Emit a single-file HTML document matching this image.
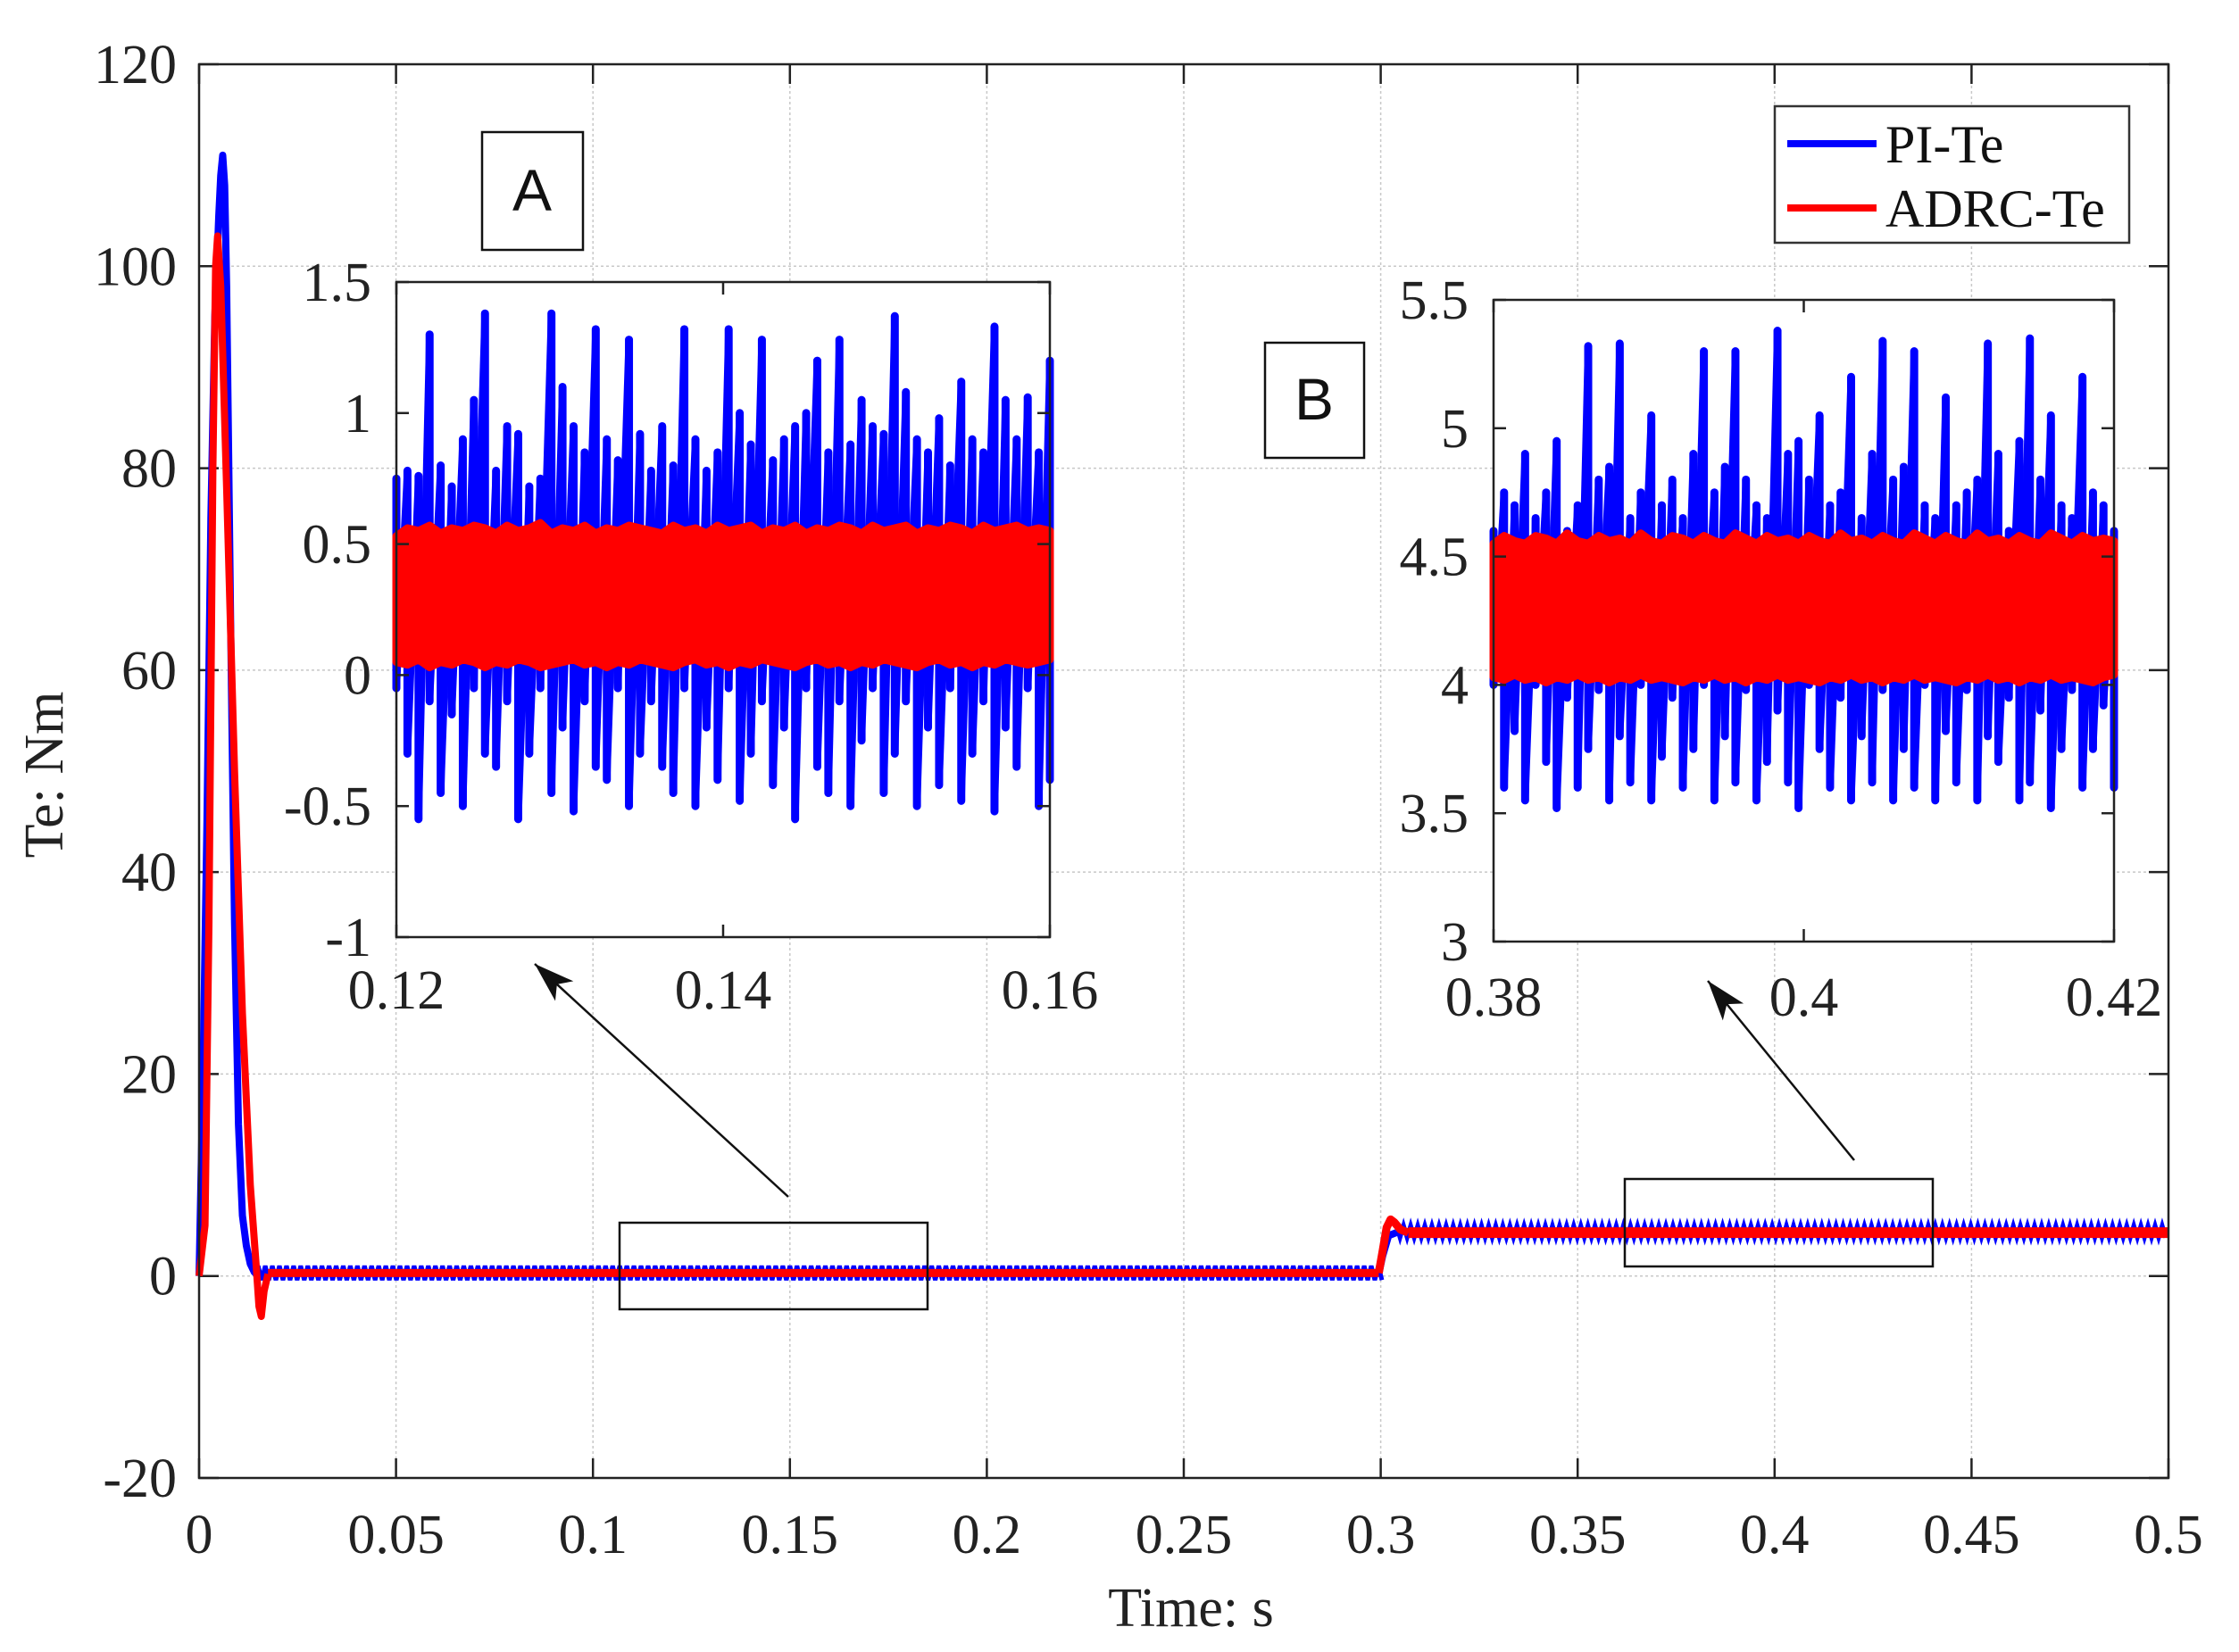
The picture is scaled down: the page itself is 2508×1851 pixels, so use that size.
<!DOCTYPE html>
<html><head><meta charset="utf-8">
<style>
html,body{margin:0;padding:0;background:#fff;}
svg{display:block;font-family:"Liberation Serif",serif;}
</style></head>
<body>
<svg id="chart" width="2508" height="1851" viewBox="0 0 2508 1851" xmlns="http://www.w3.org/2000/svg">
<rect x="0" y="0" width="2508" height="1851" fill="#fff"/>
<g id="main"></g>
<g id="insetA"></g>
<g id="insetB"></g>
<g id="annot"></g>
</svg>
<script>
// ---------- data ----------
const mainXTicks = [0,0.05,0.1,0.15,0.2,0.25,0.3,0.35,0.4,0.45,0.5];
const mainXTickLabels = ["0","0.05","0.1","0.15","0.2","0.25","0.3","0.35","0.4","0.45","0.5"];
const mainYTicks = [-20,0,20,40,60,80,100,120];
const mainYTickLabels = ["-20","0","20","40","60","80","100","120"];
const piT = [0,0.001,0.002,0.003,0.004,0.005,0.0055,0.006,0.0065,0.007,0.008,0.009,0.010,0.011,0.012,0.013,0.014,0.015];
const piV = [0,20,45,75,95,105,109,111,108,98,65,35,15,6,3,1.2,0.4,0];
const adrcT = [0,0.0015,0.0025,0.0035,0.0042,0.0047,0.0055,0.007,0.009,0.011,0.013,0.0145,0.0152,0.0158,0.0165,0.0175];
const adrcV = [0,5,35,80,100,103,98,78,50,26,9,1,-3,-4,-1.5,0.2];
const bandT = [0.015,0.3,0.3,0.5];
const piBandLo = [-0.4,-0.4,3.8,3.8];
const piBandHi = [1.0,1.0,5.0,5.0];
const adrcBandLo = [0.05,0.05,4.0,4.0];
const adrcBandHi = [0.55,0.55,4.6,4.6];
const adrcStepT = [0.2995,0.3005,0.3015,0.3025,0.3035,0.305,0.307];
const adrcStepV = [0.3,2.5,4.8,5.6,5.3,4.6,4.3];
const piStepT = [0.2995,0.3005,0.302,0.304];
const piStepV = [0.2,2.0,4.0,4.3];

const aXTicks = [0.12,0.14,0.16];
const aXLabels = ["0.12","0.14","0.16"];
const aYTicks = [-1,-0.5,0,0.5,1,1.5];
const aYLabels = ["-1","-0.5","0","0.5","1","1.5"];
const aPIhi = [0.75,0.78,0.76,1.3,0.8,0.72,0.9,1.05,1.38,0.78,0.95,0.92,0.72,0.75,1.38,1.1,0.95,0.85,1.32,0.9,0.82,1.28,0.92,0.78,0.95,0.8,1.32,0.9,0.78,0.85,1.32,1.0,0.88,1.28,0.82,0.9,0.95,1.0,1.2,0.85,1.28,0.88,1.05,0.95,0.92,1.37,1.08,0.9,0.85,0.98,0.8,1.12,0.9,0.85,1.33,1.05,0.9,1.06,0.85,1.2];
const aPIlo = [-0.05,-0.3,-0.55,-0.1,-0.45,-0.15,-0.5,-0.05,-0.3,-0.35,-0.1,-0.55,-0.3,-0.05,-0.45,-0.2,-0.52,-0.1,-0.35,-0.4,-0.05,-0.5,-0.3,-0.1,-0.35,-0.45,-0.05,-0.5,-0.2,-0.4,-0.05,-0.48,-0.3,-0.1,-0.42,-0.2,-0.55,-0.05,-0.35,-0.45,-0.1,-0.5,-0.25,-0.05,-0.45,-0.3,-0.1,-0.5,-0.2,-0.42,-0.05,-0.48,-0.3,-0.1,-0.52,-0.2,-0.35,-0.05,-0.5,-0.4];
const aADRChi = [0.53,0.56,0.55,0.57,0.54,0.56,0.55,0.57,0.56,0.54,0.57,0.55,0.56,0.58,0.54,0.56,0.55,0.57,0.54,0.56,0.55,0.57,0.56,0.55,0.54,0.57,0.55,0.56,0.54,0.57,0.55,0.56,0.57,0.54,0.56,0.55,0.57,0.54,0.56,0.55,0.57,0.56,0.54,0.57,0.55,0.56,0.57,0.54,0.56,0.55,0.57,0.56,0.54,0.57,0.55,0.56,0.57,0.55,0.56,0.55];
const aADRClo = [0.05,0.04,0.06,0.03,0.05,0.04,0.06,0.05,0.03,0.05,0.04,0.06,0.05,0.03,0.04,0.05,0.06,0.04,0.05,0.03,0.05,0.04,0.06,0.05,0.04,0.03,0.05,0.06,0.04,0.05,0.03,0.05,0.04,0.06,0.05,0.04,0.03,0.05,0.06,0.04,0.05,0.03,0.05,0.04,0.06,0.05,0.04,0.03,0.05,0.06,0.04,0.05,0.03,0.05,0.04,0.06,0.05,0.04,0.05,0.06];

const bXTicks = [0.38,0.4,0.42];
const bXLabels = ["0.38","0.4","0.42"];
const bYTicks = [3,3.5,4,4.5,5,5.5];
const bYLabels = ["3","3.5","4","4.5","5","5.5"];
const bPIhi = [4.6,4.75,4.7,4.9,4.65,4.75,4.95,4.6,4.7,5.32,4.8,4.85,5.33,4.65,4.75,5.05,4.7,4.8,4.65,4.9,5.3,4.75,4.85,5.3,4.8,4.7,4.65,5.38,4.9,4.95,4.8,5.05,4.7,4.75,5.2,4.65,4.9,5.34,4.8,4.85,5.3,4.7,4.65,5.12,4.7,4.75,4.8,5.33,4.9,4.6,4.95,5.35,4.8,5.05,4.7,4.65,5.2,4.75,4.7,4.6];
const bPIlo = [4.0,3.6,3.82,3.55,4.0,3.7,3.52,3.95,3.6,3.75,3.98,3.55,3.8,3.62,4.0,3.55,3.72,3.95,3.6,3.75,4.0,3.55,3.8,3.62,3.98,3.55,3.7,3.9,3.62,3.52,4.0,3.75,3.6,3.95,3.55,3.8,3.62,3.98,3.55,3.75,3.6,4.0,3.55,3.82,3.62,3.98,3.55,3.8,3.7,3.95,3.55,3.62,3.9,3.52,3.75,3.98,3.6,3.75,3.92,3.6];
const bADRChi = [4.55,4.58,4.56,4.55,4.58,4.57,4.55,4.59,4.56,4.55,4.58,4.56,4.57,4.55,4.59,4.56,4.55,4.58,4.57,4.55,4.58,4.56,4.55,4.59,4.57,4.55,4.58,4.56,4.57,4.55,4.58,4.56,4.55,4.59,4.56,4.57,4.55,4.58,4.56,4.55,4.59,4.57,4.55,4.58,4.56,4.55,4.59,4.56,4.57,4.55,4.58,4.56,4.55,4.59,4.57,4.55,4.58,4.56,4.57,4.56];
const bADRClo = [4.03,4.02,4.04,4.02,4.03,4.01,4.03,4.02,4.04,4.02,4.03,4.01,4.03,4.02,4.04,4.02,4.03,4.02,4.01,4.03,4.02,4.04,4.02,4.03,4.01,4.03,4.02,4.04,4.02,4.03,4.02,4.01,4.03,4.02,4.04,4.02,4.03,4.01,4.03,4.02,4.04,4.02,4.03,4.02,4.01,4.03,4.02,4.04,4.02,4.03,4.01,4.03,4.02,4.04,4.02,4.03,4.02,4.01,4.03,4.04];

// ---------- helpers ----------
const NS = "http://www.w3.org/2000/svg";
function mk(parent, tag, attrs, text){
  const e = document.createElementNS(NS, tag);
  for (const k in attrs) e.setAttribute(k, attrs[k]);
  if (text !== undefined) e.textContent = text;
  parent.appendChild(e);
  return e;
}
function lin(d0,d1,r0,r1){ return v => r0 + (v-d0)/(d1-d0)*(r1-r0); }

// ---------- main axes ----------
const M = {l:223, r:2429, t:72, b:1656};
const mx = lin(0,0.5,M.l,M.r), my = lin(-20,120,M.b,M.t);
const gMain = document.getElementById('main');
mk(gMain,'rect',{x:M.l,y:M.t,width:M.r-M.l,height:M.b-M.t,fill:'#fff'});
mainXTicks.forEach((v,i)=>{
  const x = mx(v);
  const g = mk(gMain,'line',{x1:x,x2:x,y1:M.t,y2:M.b,stroke:'#c8c8c8','stroke-width':1.5,'stroke-dasharray':'3,3'});
  
  
  mk(gMain,'line',{x1:x,x2:x,y1:M.b,y2:M.b-22,stroke:'#222','stroke-width':2.5});
  mk(gMain,'line',{x1:x,x2:x,y1:M.t,y2:M.t+22,stroke:'#222','stroke-width':2.5});
  const t = mk(gMain,'text',{x:x,y:1740,'font-size':62,'text-anchor':'middle',fill:'#222'},mainXTickLabels[i]);
  
  
});
mainYTicks.forEach((v,i)=>{
  const y = my(v);
  const g = mk(gMain,'line',{x1:M.l,x2:M.r,y1:y,y2:y,stroke:'#c8c8c8','stroke-width':1.5,'stroke-dasharray':'3,3'});
  
  
  mk(gMain,'line',{x1:M.l,x2:M.l+22,y1:y,y2:y,stroke:'#222','stroke-width':2.5});
  mk(gMain,'line',{x1:M.r,x2:M.r-22,y1:y,y2:y,stroke:'#222','stroke-width':2.5});
  const t = mk(gMain,'text',{x:198,y:y+21,'font-size':62,'text-anchor':'end',fill:'#222'},mainYTickLabels[i]);
  
  
});

function bandPath(xs, ys, loV, hiV, step, x0, x1){
  let pts = [];
  for (let t = x0; t <= x1; t += step){
    pts.push(xs(t)+','+ys(hiV));
    pts.push(xs(t+step/2)+','+ys(loV));
  }
  return pts.join(' ');
}
function linePts(xs, ys, T, V){ return T.map((t,i)=>xs(t)+','+ys(V[i])).join(' '); }

const piBand1 = mk(gMain,'polyline',{points:bandPath(mx,my,piBandLo[0],piBandHi[0],0.0018,bandT[0],0.2995),fill:'none',stroke:'#0000ff','stroke-width':5});


const piBand2 = mk(gMain,'polyline',{points:bandPath(mx,my,piBandLo[2],piBandHi[2],0.0018,0.304,bandT[3]),fill:'none',stroke:'#0000ff','stroke-width':5});


const piTr = mk(gMain,'polyline',{points:linePts(mx,my,piT,piV),fill:'none',stroke:'#0000ff','stroke-width':8,'stroke-linejoin':'round'});


const piSt = mk(gMain,'polyline',{points:linePts(mx,my,piStepT,piStepV),fill:'none',stroke:'#0000ff','stroke-width':8});



const ad1 = mk(gMain,'polyline',{points:linePts(mx,my,[adrcT[adrcT.length-1],0.2995],[(adrcBandLo[0]+adrcBandHi[0])/2,(adrcBandLo[1]+adrcBandHi[1])/2]),fill:'none',stroke:'#ff0000','stroke-width':9});


const ad2 = mk(gMain,'polyline',{points:linePts(mx,my,[0.307,0.5],[(adrcBandLo[2]+adrcBandHi[2])/2,(adrcBandLo[3]+adrcBandHi[3])/2]),fill:'none',stroke:'#ff0000','stroke-width':12});


const adTr = mk(gMain,'polyline',{points:linePts(mx,my,adrcT,adrcV),fill:'none',stroke:'#ff0000','stroke-width':8,'stroke-linejoin':'round'});


const adSt = mk(gMain,'polyline',{points:linePts(mx,my,adrcStepT,adrcStepV),fill:'none',stroke:'#ff0000','stroke-width':9,'stroke-linejoin':'round'});



mk(gMain,'rect',{x:M.l,y:M.t,width:M.r-M.l,height:M.b-M.t,fill:'none',stroke:'#222','stroke-width':2.5});
const xt = mk(gMain,'text',{x:1334,y:1822,'font-size':62,'text-anchor':'middle',fill:'#222'},'Time: s');


const yt = mk(gMain,'text',{x:0,y:0,'font-size':62,'text-anchor':'middle',fill:'#222',transform:'translate(70,868) rotate(-90)'},'Te: Nm');



// ---------- insets ----------
function inset(gid, box, xd, yd, xT, xL, yT, yL, hi, lo, rhi, rlo, xLabY){
  const g = document.getElementById(gid);
  const xs = lin(xd[0],xd[1],box.l,box.r), ys = lin(yd[0],yd[1],box.b,box.t);
  mk(g,'rect',{x:box.l,y:box.t,width:box.r-box.l,height:box.b-box.t,fill:'#fff'});
  const n = hi.length, dt = (xd[1]-xd[0])/(n-1);
  for (let i=0;i<n;i++){
    const t = xd[0]+i*dt;
    const ln = mk(g,'line',{x1:xs(t),x2:xs(t),y1:ys(hi[i]),y2:ys(lo[i]),stroke:'#0000ff','stroke-width':9,'stroke-linecap':'round'});
    
    
    if (i<n-1){
      const c = mk(g,'line',{x1:xs(t),x2:xs(t+dt),y1:ys(lo[i]),y2:ys(hi[i+1]),stroke:'#0000ff','stroke-width':8});
      
      
    }
  }
  const top = rhi.map((v,i)=>xs(xd[0]+i*dt)+','+ys(v));
  const bot = rlo.map((v,i)=>xs(xd[0]+i*dt)+','+ys(v)).reverse();
  const rp = mk(g,'polygon',{points:top.concat(bot).join(' '),fill:'#ff0000',stroke:'#ff0000','stroke-width':9,'stroke-linejoin':'round'});
  
  
  xT.forEach((v,i)=>{
    const x = xs(v);
    mk(g,'line',{x1:x,x2:x,y1:box.b,y2:box.b-14,stroke:'#222','stroke-width':2.5});
    mk(g,'line',{x1:x,x2:x,y1:box.t,y2:box.t+14,stroke:'#222','stroke-width':2.5});
    const t = mk(g,'text',{x:x,y:xLabY,'font-size':62,'text-anchor':'middle',fill:'#222'},xL[i]);
    
    
  });
  yT.forEach((v,i)=>{
    const y = ys(v);
    mk(g,'line',{x1:box.l,x2:box.l+14,y1:y,y2:y,stroke:'#222','stroke-width':2.5});
    mk(g,'line',{x1:box.r,x2:box.r-14,y1:y,y2:y,stroke:'#222','stroke-width':2.5});
    const t = mk(g,'text',{x:box.l-28,y:y+21,'font-size':62,'text-anchor':'end',fill:'#222'},yL[i]);
    
    
  });
  mk(g,'rect',{x:box.l,y:box.t,width:box.r-box.l,height:box.b-box.t,fill:'none',stroke:'#222','stroke-width':2.5});
}
inset('insetA',{l:444,r:1176,t:316,b:1050},[0.12,0.16],[-1,1.5],aXTicks,aXLabels,aYTicks,aYLabels,aPIhi,aPIlo,aADRChi,aADRClo,1130);
inset('insetB',{l:1673,r:2368,t:336,b:1055},[0.38,0.42],[3,5.5],bXTicks,bXLabels,bYTicks,bYLabels,bPIhi,bPIlo,bADRChi,bADRClo,1138);

// ---------- annotations ----------
const ga = document.getElementById('annot');
function box(x,y,w,h,name){
  const r = mk(ga,'rect',{x:x,y:y,width:w,height:h,fill:'none',stroke:'#111','stroke-width':2.5});
  
  
}
const lg = mk(ga,'rect',{x:1988,y:119,width:397,height:153,fill:'#fff',stroke:'#333','stroke-width':2.5});


const l1 = mk(ga,'line',{x1:2002,x2:2102,y1:161,y2:161,stroke:'#0000ff','stroke-width':8});


const lt1 = mk(ga,'text',{x:2112,y:182,'font-size':60,fill:'#111'},'PI-Te');


const l2 = mk(ga,'line',{x1:2002,x2:2102,y1:233,y2:233,stroke:'#ff0000','stroke-width':8});


const lt2 = mk(ga,'text',{x:2112,y:254,'font-size':60,fill:'#111'},'ADRC-Te');


box(540,148,113,132,'label-box-a');
const ta = mk(ga,'text',{x:596,y:236,'font-size':66,'text-anchor':'middle','font-family':'Liberation Sans, sans-serif',fill:'#111'},'A');


box(1417,384,111,129,'label-box-b');
const tb = mk(ga,'text',{x:1472,y:470,'font-size':66,'text-anchor':'middle','font-family':'Liberation Sans, sans-serif',fill:'#111'},'B');


box(694,1370,345,97,'zoom-region-a');
box(1820,1321,345,98,'zoom-region-b');
function arrow(x1,y1,x2,y2,name){
  const g = mk(ga,'g',{});
  
  
  mk(g,'line',{x1:x1,y1:y1,x2:x2,y2:y2,stroke:'#111','stroke-width':2.5});
  const a = Math.atan2(y2-y1,x2-x1), L=45, W=15;
  const bx = x2 - L*Math.cos(a), by = y2 - L*Math.sin(a);
  const px = -Math.sin(a)*W, py = Math.cos(a)*W;
  mk(g,'polygon',{points:`${x2},${y2} ${bx+px},${by+py} ${bx+L*0.25*Math.cos(a)},${by+L*0.25*Math.sin(a)} ${bx-px},${by-py}`,fill:'#111'});
}
arrow(883,1341,599,1080,'arrow-a');
arrow(2077,1300,1913,1099,'arrow-b');
</script>
</body></html>
